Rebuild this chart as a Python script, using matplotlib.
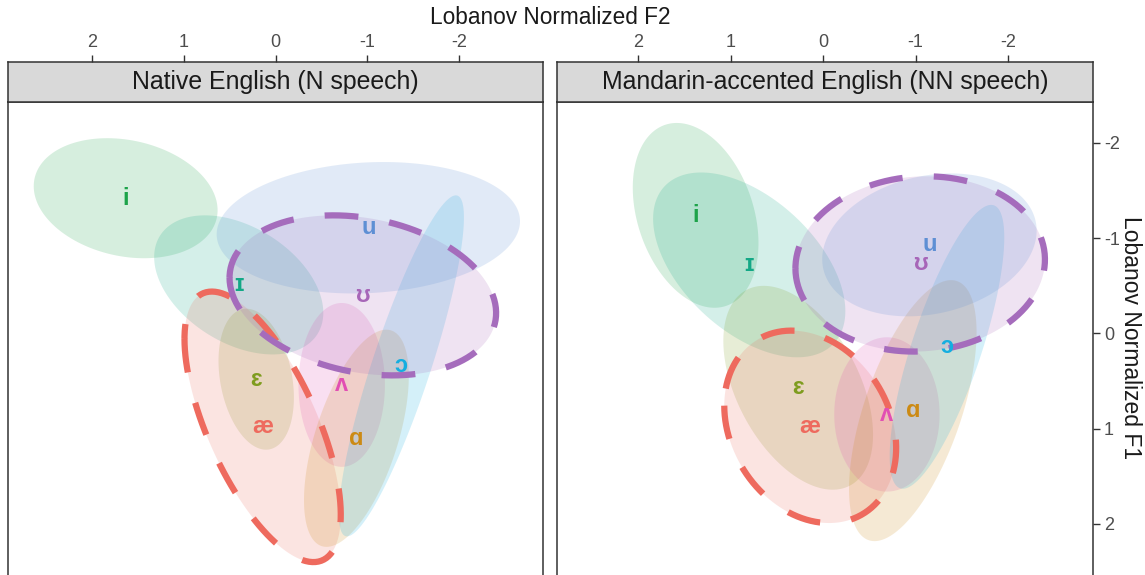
import numpy as np
import matplotlib
matplotlib.use('Agg')
import matplotlib.pyplot as plt

plt.rcParams['font.family'] = ['Liberation Sans', 'DejaVu Sans']

# vowel categories and their colours
vowels = ['i', 'ɪ', 'ɛ', 'æ', 'ʌ', 'ɑ', 'ɔ', 'ʊ', 'u']
colors = ['#1DA34A', '#13A886', '#7E9C1E', '#EE6A5E', '#E24FB3',
          '#CC8A14', '#14AEE0', '#A766B8', '#5E8FD4']
dashed = ['æ', 'ʊ']
dash_colors = {'æ': '#EE6A5E', 'ʊ': '#A56CBC'}

panels = ['Native English (N speech)', 'Mandarin-accented English (NN speech)']

# ellipse parameters per panel: centre (F2, F1), half extents, correlation
n_cx = [1.63, 0.40, 0.21, 0.14, -0.72, -0.88, -1.37, -0.95, -1.01]
n_cy = [-1.42, -0.51, 0.48, 0.98, 0.54, 1.10, 0.34, -0.40, -1.11]
n_sx = [1.00, 0.92, 0.41, 0.85, 0.47, 0.57, 0.68, 1.45, 1.65]
n_sy = [0.63, 0.73, 0.74, 1.42, 0.86, 1.14, 1.79, 0.84, 0.69]
n_rho = [-0.20, -0.40, -0.26, -0.65, 0.0, 0.57, 0.87, -0.22, 0.10]

nn_cx = [1.38, 0.80, 0.27, 0.14, -0.69, -0.97, -1.34, -1.05, -1.15]
nn_cy = [-1.24, -0.72, 0.57, 0.98, 0.85, 0.81, 0.14, -0.73, -0.93]
nn_sx = [0.68, 1.04, 0.81, 0.93, 0.57, 0.69, 0.62, 1.35, 1.16]
nn_sy = [0.97, 0.97, 1.07, 1.01, 0.81, 1.37, 1.49, 0.92, 0.75]
nn_rho = [-0.30, -0.50, -0.46, -0.22, 0.0, 0.60, 0.77, 0.05, 0.20]

x_ticks = [2, 1, 0, -1, -2]
y_ticks = [-2, -1, 0, 1, 2]


def ellipse_xy(cx, cy, sx, sy, rho, n=240):
    t = np.linspace(0, 2 * np.pi, n)
    x = cx + sx * np.cos(t)
    y = cy + sy * (rho * np.cos(t) + np.sqrt(1 - rho ** 2) * np.sin(t))
    return x, y


def draw_panel(ax, cxs, cys, sxs, sys_, rhos):
    for v, c, cx, cy, sx, sy, r in zip(vowels, colors, cxs, cys, sxs, sys_, rhos):
        x, y = ellipse_xy(cx, cy, sx, sy, r)
        ax.fill(x, y, color=c, alpha=0.18, lw=0)
    for v, cx, cy, sx, sy, r in zip(vowels, cxs, cys, sxs, sys_, rhos):
        if v in dashed:
            x, y = ellipse_xy(cx, cy, sx, sy, r)
            ax.plot(x, y, color=dash_colors[v], lw=4.5,
                    linestyle=(0, (5.4, 5.0)), solid_capstyle='butt')
    for v, c, cx, cy in zip(vowels, colors, cxs, cys):
        ax.text(cx, cy, v, color=c, fontsize=17, fontweight='bold',
                ha='center', va='center')


W, H = 1145, 575
fig = plt.figure(figsize=(W / 100, H / 100), dpi=100)

boxes = [(8, 543, (2.91, -2.91)), (557, 1093, (2.88, -2.92))]
data = [(n_cx, n_cy, n_sx, n_sy, n_rho), (nn_cx, nn_cy, nn_sx, nn_sy, nn_rho)]

for i, ((x0, x1, xl), d, title) in enumerate(zip(boxes, data, panels)):
    ax = fig.add_axes([x0 / W, -3 / H, (x1 - x0) / W, (578 - 102) / H])
    ax.set_xlim(*xl)
    ax.set_ylim(2.567, -2.43)
    draw_panel(ax, *d)
    ax.set_xticks([])
    for s in ax.spines.values():
        s.set_color('#333333')
        s.set_linewidth(1.1)
    if i == 1:
        ax.yaxis.tick_right()
        ax.set_yticks(y_ticks)
        ax.set_yticklabels([str(t) for t in y_ticks])
        ax.tick_params(axis='y', length=5, width=1, color='#333333',
                       labelsize=13, labelcolor='#4D4D4D', pad=3)
    else:
        ax.set_yticks([])

    strip = fig.add_axes([x0 / W, 1 - 102 / H, (x1 - x0) / W, 40 / H])
    strip.set_facecolor('#D9D9D9')
    strip.set_xlim(*xl)
    strip.set_ylim(0, 1)
    strip.xaxis.tick_top()
    strip.set_xticks(x_ticks)
    strip.set_xticklabels([str(t) for t in x_ticks])
    strip.set_yticks([])
    strip.tick_params(axis='x', length=5, width=1, color='#333333',
                      labelsize=13, labelcolor='#4D4D4D', pad=3)
    for s in strip.spines.values():
        s.set_color('#333333')
        s.set_linewidth(1.1)
    strip.text(0.5, 0.5, title, transform=strip.transAxes, ha='center',
               va='center', fontsize=17.9, color='#1A1A1A')

fig.text(550 / W, 1 - 18 / H, 'Lobanov Normalized F2', ha='center', va='center',
         fontsize=16.3, color='#1A1A1A')
fig.text(1130 / W, 1 - 338 / H, 'Lobanov Normalized F1', ha='center', va='center',
         fontsize=16.5, rotation=270, color='#1A1A1A')

fig.savefig('out.png', dpi=100)
